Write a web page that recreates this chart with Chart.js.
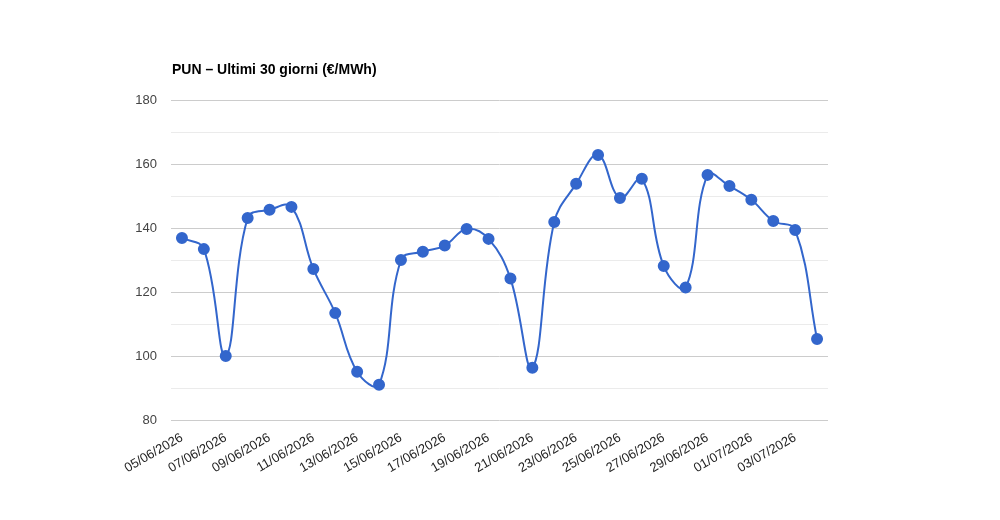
<!DOCTYPE html>
<html>
<head>
<meta charset="utf-8">
<script src="https://cdn.jsdelivr.net/npm/chart.js@4.4.1/dist/chart.umd.min.js"></script>
<style>
html,body{margin:0;padding:0;background:#fff;}
#wrap{position:relative;width:1000px;height:520px;}
</style>
</head>
<body>
<div id="wrap"><canvas id="c" width="1000" height="520"></canvas></div>
<script>
const chartTitle = 'PUN – Ultimi 30 giorni (€/MWh)';
const dates = ['05/06/2026','06/06/2026','07/06/2026','08/06/2026','09/06/2026','10/06/2026','11/06/2026','12/06/2026','13/06/2026','14/06/2026','15/06/2026','16/06/2026','17/06/2026','18/06/2026','19/06/2026','20/06/2026','21/06/2026','22/06/2026','23/06/2026','24/06/2026','25/06/2026','26/06/2026','27/06/2026','28/06/2026','29/06/2026','30/06/2026','01/07/2026','02/07/2026','03/07/2026','04/07/2026'];
const pun = [136.9,133.4,100.0,143.1,145.7,146.6,127.2,113.4,95.1,91.0,130.0,132.6,134.5,139.7,136.6,124.2,96.3,141.9,153.8,162.8,149.4,155.4,128.1,121.4,156.6,153.1,148.8,142.2,139.4,105.3];
const yMin = 80, yMax = 180, yStep = 10, yLabelStep = 20;

const titlePlugin = {
  id: 'leftTitle',
  afterDraw(chart) {
    const ctx = chart.ctx;
    ctx.save();
    ctx.font = 'bold 14px "Liberation Sans", Arial, sans-serif';
    ctx.fillStyle = '#000';
    ctx.textAlign = 'left';
    ctx.textBaseline = 'middle';
    ctx.fillText(chartTitle, chart.chartArea.left + 1, 70);
    ctx.restore();
  }
};

new Chart(document.getElementById('c'), {
  type: 'line',
  data: {
    labels: dates,
    datasets: [{
      data: pun,
      borderColor: '#3366cc',
      backgroundColor: '#3366cc',
      borderWidth: 2,
      pointRadius: 5,
      pointHoverRadius: 5,
      pointBackgroundColor: '#3366cc',
      pointBorderColor: '#3366cc',
      tension: 0.4,
      fill: false
    }]
  },
  options: {
    responsive: false,
    animation: false,
    layout: { padding: { top: 100, left: 0, right: 172, bottom: 0 } },
    plugins: { legend: { display: false }, title: { display: false }, tooltip: { enabled: false } },
    scales: {
      x: {
        offset: true,
        grid: { display: false },
        border: { display: false },
        afterFit(s) { s.height = 100; },
        ticks: {
          autoSkip: false,
          minRotation: 30,
          maxRotation: 30,
          padding: 2,
          color: '#222',
          font: { family: '"Liberation Sans", Arial, sans-serif', size: 13 },
          callback(v, i) { return i % 2 === 0 ? dates[i] : ''; }
        }
      },
      y: {
        min: yMin, max: yMax,
        border: { display: false },
        afterFit(s) { s.width = 171; },
        grid: {
          drawTicks: false,
          color(ctx) { return (ctx.tick && ctx.tick.value % yLabelStep === 0) ? '#cccccc' : '#ebebeb'; },
          lineWidth: 1
        },
        ticks: {
          stepSize: yStep,
          padding: 14,
          color: '#444',
          font: { family: '"Liberation Sans", Arial, sans-serif', size: 13 },
          callback(v) { return v % yLabelStep === 0 ? v : ''; }
        }
      }
    }
  },
  plugins: [titlePlugin]
});
</script>
</body>
</html>
